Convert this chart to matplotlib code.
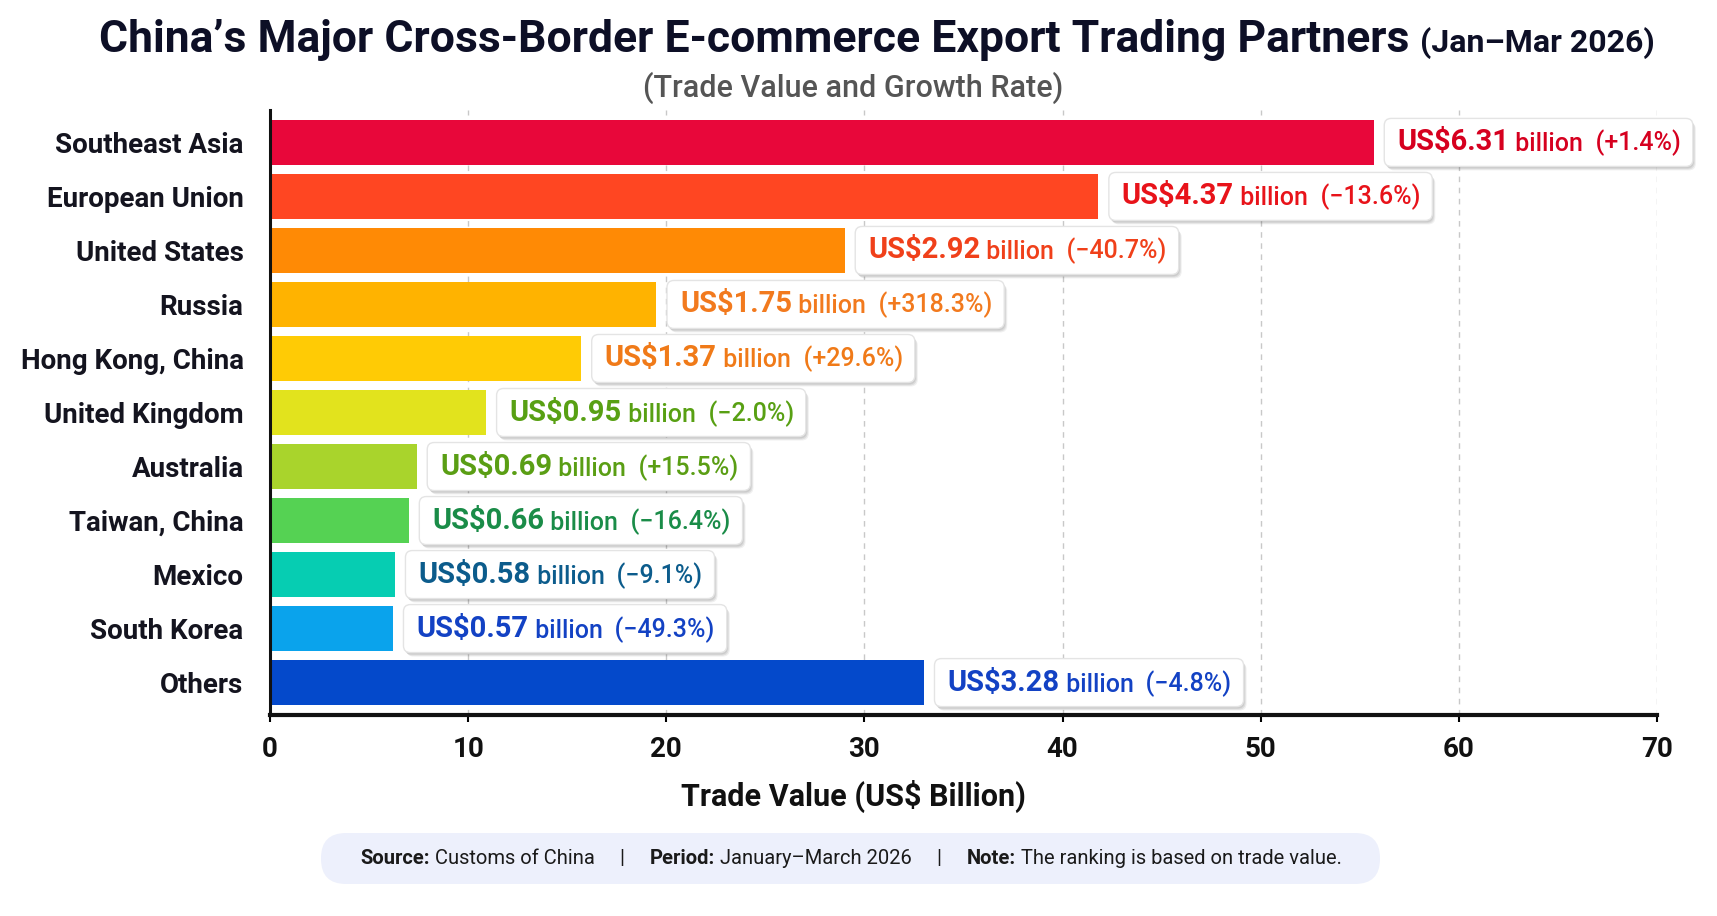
import matplotlib
matplotlib.use("Agg")
import matplotlib.pyplot as plt
import matplotlib.transforms as mtransforms
from matplotlib import font_manager
from matplotlib.patches import FancyBboxPatch

# ---- data ----
regions = ["Southeast Asia", "European Union", "United States", "Russia",
           "Hong Kong, China", "United Kingdom", "Australia", "Taiwan, China",
           "Mexico", "South Korea", "Others"]
bar_len = [55.7, 41.8, 29.0, 19.5, 15.7, 10.9, 7.4, 7.0, 6.3, 6.2, 33.0]
trade_bn = ["6.31", "4.37", "2.92", "1.75", "1.37", "0.95", "0.69", "0.66",
            "0.58", "0.57", "3.28"]
growth = ["+1.4%", "−13.6%", "−40.7%", "+318.3%", "+29.6%", "−2.0%",
          "+15.5%", "−16.4%", "−9.1%", "−49.3%", "−4.8%"]
bar_colors = ["#E8073A", "#FF4622", "#FF8A05", "#FFB300", "#FFCB05", "#E2E31D",
              "#A9D42C", "#55D253", "#06CDB2", "#0AA3EC", "#0449CB"]
label_colors = ["#D6001F", "#E8131A", "#F0401A", "#F27A1E", "#F07A18", "#58A013",
                "#5A9E14", "#1A8C48", "#0C5C8C", "#1342C4", "#1342C4"]
xticks = [0, 10, 20, 30, 40, 50, 60, 70]

names = {f.name for f in font_manager.fontManager.ttflist}
FONT = "Roboto" if "Roboto" in names else "DejaVu Sans"
plt.rcParams["font.family"] = [FONT, "DejaVu Sans"]

W, H = 1717, 916
fig = plt.figure(figsize=(W / 100, H / 100), dpi=100)
fig.set_facecolor("white")
ax = fig.add_axes([270 / W, 1 - 715 / H, (1657 - 270) / W, (715 - 110) / H])

y = list(range(len(regions)))
ax.barh(y, bar_len, height=0.84, color=bar_colors, zorder=2)
ax.set_ylim(len(regions) - 0.4, -0.6)
ax.set_xlim(0, 70)
ax.set_xticks(xticks)
ax.set_yticks(y)
ax.set_yticklabels(regions, fontsize=20, fontweight=600, color="#14141f")
ax.tick_params(axis="y", length=0, pad=19)
ax.tick_params(axis="x", length=5, width=1.5, pad=10, labelsize=20, labelcolor="#111111")
for lab in ax.get_xticklabels():
    lab.set_fontweight(600)
ax.xaxis.grid(True, linestyle=(0, (4, 4)), color="#c8c8c8", lw=1, zorder=0)
ax.set_axisbelow(True)
for s in ["top", "right"]:
    ax.spines[s].set_visible(False)
ax.spines["left"].set_linewidth(2.2)
ax.spines["bottom"].set_linewidth(3)
ax.spines["left"].set_color("#111111")
ax.spines["bottom"].set_color("#111111")

# value labels: three pieces chained together
rows = []
for i in y:
    t1 = ax.annotate("US$" + trade_bn[i], xy=(bar_len[i], i), xytext=(17, 0),
                     textcoords="offset points", va="center", ha="left",
                     fontsize=21, fontweight="bold", color=label_colors[i], zorder=6)
    t2 = ax.annotate(" billion", xy=(1, 0), xycoords=t1, va="bottom", ha="left",
                     fontsize=18, fontweight=500, color=label_colors[i], zorder=6)
    t3 = ax.annotate("  (" + growth[i] + ")", xy=(1, 0), xycoords=t2, va="bottom",
                     ha="left", fontsize=18, fontweight=500, color=label_colors[i], zorder=6)
    rows.append((t1, t2, t3))

# titles
t_main = fig.text(0, 1 - 40 / H, "China’s Major Cross-Border E-commerce Export Trading Partners",
                  fontsize=32, fontweight="bold", color="#0d0f26", va="center", ha="left")
t_sub = fig.text(0, 1 - 40 / H, "(Jan–Mar 2026)", fontsize=23, fontweight=600,
                 color="#0d0f26", va="center", ha="left")
fig.text(0.497, 1 - 88 / H, "(Trade Value and Growth Rate)", fontsize=22,
         fontweight=500, color="#555555", ha="center", va="center")
fig.text(0.497, 1 - 796 / H, "Trade Value (US$ Billion)", fontsize=22,
         fontweight=600, color="#111111", ha="center", va="center")

# footer
foot = [("Source:", "bold"), (" Customs of China", "normal"), ("     |     ", "normal"),
        ("Period:", "bold"), (" January–March 2026", "normal"), ("     |     ", "normal"),
        ("Note:", "bold"), (" The ranking is based on trade value.", "normal")]
foot_txt = [fig.text(0, 1 - 858 / H, s, fontsize=14.5, fontweight=w, color="#1a1a1a",
                     va="center", ha="left") for s, w in foot]

fig.canvas.draw()
r = fig.canvas.get_renderer()

# centre the title pieces
w1 = t_main.get_window_extent(r).width
w2 = t_sub.get_window_extent(r).width
left = 877 - (w1 + 10 + w2) / 2
t_main.set_x(left / W)
t_sub.set_x((left + w1 + 10) / W)
t_sub.set_y(1 - 43 / H)

# footer pieces side by side
widths = [t.get_window_extent(r).width for t in foot_txt]
fx = 851 - sum(widths) / 2
for k, t in enumerate(foot_txt):
    t.set_x(fx / W)
    fx += widths[k]
fig.add_artist(FancyBboxPatch((321, 916 - 884), 1380 - 321, 51,
                              boxstyle="round,pad=0,rounding_size=25",
                              transform=mtransforms.IdentityTransform(),
                              fc="#edf0fc", ec="none", zorder=-1))

# boxes behind value labels
for t1, t2, t3 in rows:
    bb = mtransforms.Bbox.union([t.get_window_extent(r) for t in (t1, t2, t3)])
    x0, x1 = bb.x0 - 13, bb.x1 + 12
    cy = (bb.y0 + bb.y1) / 2
    y0, y1 = cy - 24, cy + 24
    for dx, dy, a in [(3, -4, 0.06), (2, -3, 0.08), (1, -2, 0.08)]:
        ax.add_patch(FancyBboxPatch((x0 + dx, y0 + dy), x1 - x0, y1 - y0,
                                    boxstyle="round,pad=0,rounding_size=7",
                                    transform=mtransforms.IdentityTransform(),
                                    fc="#000000", ec="none", alpha=a,
                                    zorder=4, clip_on=False))
    ax.add_patch(FancyBboxPatch((x0, y0), x1 - x0, y1 - y0,
                                boxstyle="round,pad=0,rounding_size=7",
                                transform=mtransforms.IdentityTransform(),
                                fc="white", ec="#e4e4e4", lw=1,
                                zorder=5, clip_on=False))

fig.savefig("out.png", dpi=100)
